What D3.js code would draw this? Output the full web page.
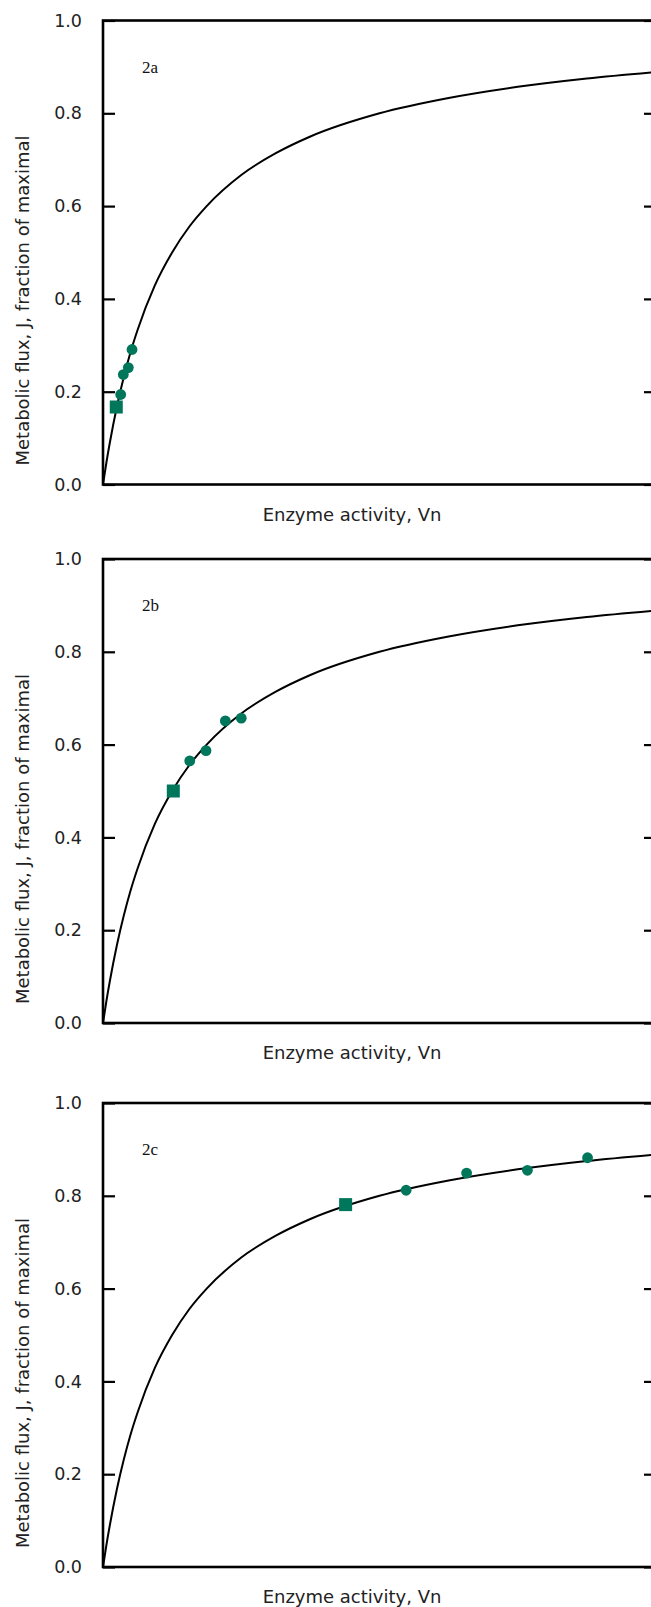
<!DOCTYPE html>
<html>
<head>
<meta charset="utf-8">
<script src="https://cdn.jsdelivr.net/npm/d3@7/dist/d3.min.js"></script>
<style>
  html, body { margin: 0; padding: 0; background: #fff; }
  svg { display: block; }
</style>
</head>
<body>
<svg id="chart" width="651" height="1607"></svg>
<script>
// ---- data ----
const panelNames = ["2a", "2b", "2c"];
const yTicks = [0.0, 0.2, 0.4, 0.6, 0.8, 1.0];
const xTitle = "Enzyme activity, Vn";
const yTitle = "Metabolic flux, J, fraction of maximal";

// saturation curve, identical in the three panels
const curveV = [0, 0.05, 0.1, 0.2, 0.3, 0.4, 0.5, 0.75, 1, 1.25, 1.5, 2, 2.5, 3, 4, 5, 6, 7, 8];
const curveJ = [0, 0.048, 0.091, 0.167, 0.231, 0.286, 0.333, 0.429, 0.5, 0.556, 0.6, 0.667, 0.714, 0.75, 0.8, 0.833, 0.857, 0.875, 0.889];

// square marker per panel
const squareV = [0.192, 1.017, 3.51];
const squareJ = [0.167, 0.50, 0.781];

// circle markers per panel
const circleV = [
  [0.256, 0.294, 0.366, 0.42],
  [1.255, 1.49, 1.77, 2.0],
  [4.385, 5.26, 6.14, 7.01]
];
const circleJ = [
  [0.194, 0.237, 0.252, 0.291],
  [0.565, 0.587, 0.651, 0.657],
  [0.812, 0.849, 0.855, 0.882]
];

// ---- layout ----
const svg = d3.select("#chart");
const left = 103, right = 656;
const tops = [20.5, 559, 1103];
const plotH = 464;
const green = "#00765a";
const textCol = "#222";
const sans = "'DejaVu Sans', sans-serif";
const serif = "'Liberation Serif', 'Times New Roman', serif";

const x = d3.scaleLinear().domain([0, 8]).range([left, right]);

panelNames.forEach((name, i) => {
  const top = tops[i];
  const y = d3.scaleLinear().domain([0, 1]).range([top + plotH, top]);
  const g = svg.append("g");

  // left axis ticks (inward) + labels
  const yAxisL = d3.axisLeft(y).tickValues(yTicks).tickSize(-12).tickPadding(21)
    .tickFormat(d3.format(".1f"));
  const gl = g.append("g").attr("transform", `translate(${left},0)`).call(yAxisL);
  gl.select(".domain").remove();
  gl.selectAll(".tick line").attr("stroke", "#000").attr("stroke-width", 2.2);
  gl.selectAll(".tick text").style("font-size", "17.5px").style("font-family", sans)
    .attr("fill", textCol);

  // right axis ticks (inward), no labels
  const yAxisR = d3.axisRight(y).tickValues(yTicks).tickSize(-12).tickFormat("");
  const gr = g.append("g").attr("transform", `translate(${right},0)`).call(yAxisR);
  gr.select(".domain").remove();
  gr.selectAll(".tick line").attr("stroke", "#000").attr("stroke-width", 2.2);

  // frame
  g.append("rect")
    .attr("x", left).attr("y", top)
    .attr("width", right - left).attr("height", plotH)
    .attr("fill", "none").attr("stroke", "#000").attr("stroke-width", 2.6);

  // curve
  const line = d3.line().x((d, k) => x(curveV[k])).y((d, k) => y(curveJ[k]))
    .curve(d3.curveMonotoneX);
  g.append("path").datum(curveV).attr("d", line)
    .attr("fill", "none").attr("stroke", "#000").attr("stroke-width", 2);

  // circles
  g.selectAll("circle.pt").data(circleV[i]).join("circle")
    .attr("class", "pt")
    .attr("cx", d => x(d))
    .attr("cy", (d, k) => y(circleJ[i][k]))
    .attr("r", 5.4).attr("fill", green);

  // square
  const s = 13;
  g.append("rect")
    .attr("x", x(squareV[i]) - s / 2).attr("y", y(squareJ[i]) - s / 2)
    .attr("width", s).attr("height", s).attr("fill", green);

  // panel label
  g.append("text").attr("x", 142).attr("y", top + 52)
    .style("font-family", serif).style("font-size", "17px")
    .attr("fill", "#111").text(name);

  // x title
  g.append("text").attr("x", 352).attr("y", top + plotH + 36)
    .attr("text-anchor", "middle")
    .style("font-family", sans).style("font-size", "18px")
    .attr("fill", textCol).text(xTitle);

  // y title
  const cy = top + 280;
  g.append("text").attr("transform", `translate(28.5,${cy}) rotate(-90)`)
    .attr("text-anchor", "middle")
    .style("font-family", sans).style("font-size", "18px")
    .attr("fill", textCol).text(yTitle);
});
</script>
</body>
</html>
